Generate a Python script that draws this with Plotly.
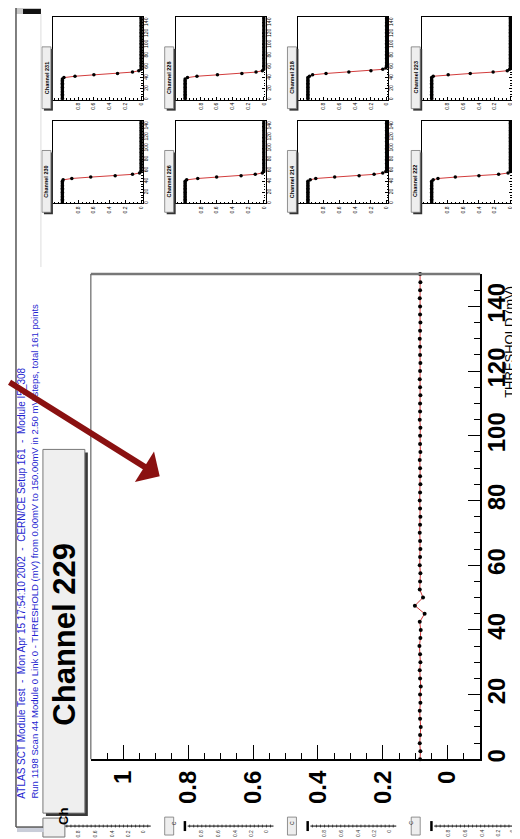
import plotly.graph_objects as go

W, H = 520, 839

# ---------------- data ----------------
THRESHOLD_MV = [
    0.0, 2.5, 5.0, 7.5, 10.0, 12.5, 15.0, 17.5, 20.0, 22.5,
    25.0, 27.5, 30.0, 32.5, 35.0, 37.5, 40.0, 42.5, 45.0, 47.5,
    50.0, 52.5, 55.0, 57.5, 60.0, 62.5, 65.0, 67.5, 70.0, 72.5,
    75.0, 77.5, 80.0, 82.5, 85.0, 87.5, 90.0, 92.5, 95.0, 97.5,
    100.0, 102.5, 105.0, 107.5, 110.0, 112.5, 115.0, 117.5, 120.0, 122.5,
    125.0, 127.5, 130.0, 132.5, 135.0, 137.5, 140.0, 142.5, 145.0, 147.5,
    150.0,
]

MAIN_CHANNEL = "Channel 229"
MAIN_OCC = [
    0.085, 0.084, 0.086, 0.085, 0.083, 0.085, 0.086, 0.084, 0.085, 0.083,
    0.085, 0.086, 0.084, 0.085, 0.087, 0.084, 0.083, 0.086, 0.071, 0.101,
    0.076, 0.086, 0.085, 0.084, 0.086, 0.085, 0.084, 0.085, 0.086, 0.085,
    0.084, 0.085, 0.086, 0.085, 0.084, 0.085, 0.085, 0.086, 0.084, 0.085,
    0.085, 0.084, 0.086, 0.085, 0.085, 0.084, 0.085, 0.086, 0.085, 0.084,
    0.085, 0.085, 0.086, 0.085, 0.084, 0.085, 0.085, 0.086, 0.085, 0.084,
    0.085,
]

MINI_CHANNELS = ["Channel 231", "Channel 228", "Channel 218", "Channel 223",
                 "Channel 230", "Channel 226", "Channel 214", "Channel 222"]

OCC_231 = [1, 1, 1, 1, 1, 1, 1, 1, 1, 1, 1, 1, 1, 1, 1, 1,
           0.98, 0.84, 0.60, 0.30, 0.11, 0.03,
           0, 0, 0, 0, 0, 0, 0, 0, 0, 0, 0, 0, 0, 0, 0, 0, 0, 0, 0, 0,
           0, 0, 0, 0, 0, 0, 0, 0, 0, 0, 0, 0, 0, 0, 0, 0, 0, 0, 0]
OCC_228 = [1, 1, 1, 1, 1, 1, 1, 1, 1, 1, 1, 1, 1, 1, 1, 1,
           0.97, 0.85, 0.59, 0.28, 0.10, 0.02,
           0, 0, 0, 0, 0, 0, 0, 0, 0, 0, 0, 0, 0, 0, 0, 0, 0, 0, 0, 0,
           0, 0, 0, 0, 0, 0, 0, 0, 0, 0, 0, 0, 0, 0, 0, 0, 0, 0, 0]
OCC_218 = [1, 1, 1, 1, 1, 1, 1, 1, 1, 1, 1, 1, 1, 1, 1, 1, 1,
           0.98, 0.94, 0.77, 0.48, 0.20, 0.05, 0.01,
           0, 0, 0, 0, 0, 0, 0, 0, 0, 0, 0, 0, 0, 0, 0, 0, 0, 0, 0, 0,
           0, 0, 0, 0, 0, 0, 0, 0, 0, 0, 0, 0, 0, 0, 0, 0, 0]
OCC_223 = [1, 1, 1, 1, 1, 1, 1, 1, 1, 1, 1, 1, 1, 1, 1, 1, 1,
           0.98, 0.79, 0.51, 0.22, 0.04, 0.01,
           0, 0, 0, 0, 0, 0, 0, 0, 0, 0, 0, 0, 0, 0, 0, 0, 0, 0, 0, 0,
           0, 0, 0, 0, 0, 0, 0, 0, 0, 0, 0, 0, 0, 0, 0, 0, 0, 0]
OCC_230 = [1, 1, 1, 1, 1, 1, 1, 1, 1, 1, 1, 1, 1, 1, 1, 1, 1,
           0.99, 0.88, 0.64, 0.33, 0.11, 0.02,
           0, 0, 0, 0, 0, 0, 0, 0, 0, 0, 0, 0, 0, 0, 0, 0, 0, 0, 0, 0,
           0, 0, 0, 0, 0, 0, 0, 0, 0, 0, 0, 0, 0, 0, 0, 0, 0, 0]
OCC_226 = [1, 1, 1, 1, 1, 1, 1, 1, 1, 1, 1, 1, 1, 1, 1, 1, 1,
           0.98, 0.84, 0.60, 0.29, 0.11, 0.02,
           0, 0, 0, 0, 0, 0, 0, 0, 0, 0, 0, 0, 0, 0, 0, 0, 0, 0, 0, 0,
           0, 0, 0, 0, 0, 0, 0, 0, 0, 0, 0, 0, 0, 0, 0, 0, 0, 0]
OCC_214 = [1, 1, 1, 1, 1, 1, 1, 1, 1, 1, 1, 1, 1, 1, 1, 1, 1,
           0.97, 0.90, 0.66, 0.35, 0.16, 0.05, 0.01,
           0, 0, 0, 0, 0, 0, 0, 0, 0, 0, 0, 0, 0, 0, 0, 0, 0, 0, 0, 0,
           0, 0, 0, 0, 0, 0, 0, 0, 0, 0, 0, 0, 0, 0, 0, 0, 0]
OCC_222 = [1, 1, 1, 1, 1, 1, 1, 1, 1, 1, 1, 1, 1, 1, 1, 1, 1,
           0.98, 0.92, 0.70, 0.40, 0.15, 0.03,
           0, 0, 0, 0, 0, 0, 0, 0, 0, 0, 0, 0, 0, 0, 0, 0, 0, 0, 0, 0,
           0, 0, 0, 0, 0, 0, 0, 0, 0, 0, 0, 0, 0, 0, 0, 0, 0, 0]
MINI_OCC = [OCC_231, OCC_228, OCC_218, OCC_223, OCC_230, OCC_226, OCC_214, OCC_222]

OCC_TICKS = [0, 0.2, 0.4, 0.6, 0.8, 1]
OCC_TICK_TEXT = ["0", "0.2", "0.4", "0.6", "0.8", "1"]
MINI_OCC_TICKS = [0, 0.2, 0.4, 0.6, 0.8]
MINI_OCC_TICK_TEXT = ["0", "0.2", "0.4", "0.6", "0.8"]
THR_TICKS = [0, 20, 40, 60, 80, 100, 120, 140]
THR_TICK_TEXT = ["0", "20", "40", "60", "80", "100", "120", "140"]

HEADER_1 = "ATLAS SCT Module Test  -  Mon Apr 15 17:54:10 2002  -  CERN/CE Setup 161  -  Module I5_308"
HEADER_2 = "Run 1198 Scan 44 Module 0 Link 0 - THRESHOLD (mV) from 0.00mV to 150.00mV in 2.50 mV steps, total 161 points"
AXIS_TITLE = "THRESHOLD (mV)"

FONT = "Liberation Sans, Arial, Helvetica, sans-serif"


def fx(p):
    return p / W


def fy(p):
    return 1 - p / H


fig = go.Figure()
layout = dict(
    width=W, height=H, margin=dict(l=0, r=0, t=0, b=0),
    paper_bgcolor="white", plot_bgcolor="white", showlegend=False,
    font=dict(family=FONT, color="black"),
)

# ---------------- main plot ----------------
fig.add_trace(go.Scatter(
    x=MAIN_OCC, y=THRESHOLD_MV, mode="lines+markers",
    line=dict(color="#d23c3c", width=1),
    marker=dict(size=4, color="black"),
    cliponaxis=False, xaxis="x", yaxis="y",
))
layout["xaxis"] = dict(
    domain=[fx(83), fx(473)], range=[1.1, -0.1], anchor="y",
    tickmode="array", tickvals=OCC_TICKS, ticktext=OCC_TICK_TEXT,
    ticks="inside", ticklen=15, tickwidth=1.2, tickcolor="black",
    tickangle=-90, tickfont=dict(size=24, family=FONT, color="black", weight="bold"),
    showline=True, linecolor="black", linewidth=1.5,
    showgrid=False, zeroline=False,
    minor=dict(tickmode="linear", tick0=0, dtick=0.05, ticklen=7,
               ticks="inside", tickcolor="black", tickwidth=1, showgrid=False),
)
layout["yaxis"] = dict(
    domain=[fy(754), fy(267)], range=[0, 150], anchor="x", side="right",
    tickmode="array", tickvals=THR_TICKS, ticktext=THR_TICK_TEXT,
    ticks="inside", ticklen=12, tickwidth=1.2, tickcolor="black",
    tickangle=-90, tickfont=dict(size=24, family=FONT, color="black", weight="bold"),
    ticklabelstandoff=-6,
    showline=True, linecolor="black", linewidth=1.5,
    showgrid=False, zeroline=False,
    minor=dict(tickmode="linear", tick0=0, dtick=5, ticklen=6,
               ticks="inside", tickcolor="black", tickwidth=1, showgrid=False),
)

# ---------------- mini plots ----------------
COL_LEFT = [45, 168, 291, 415]
ROW_SPAN = [(9, 92), (113, 196)]
MINI_W = 90

shapes = []
annotations = []


def rect(x0, y0, x1, y1, fill, line_color=None, lw=0):
    shapes.append(dict(type="rect", xref="paper", yref="paper",
                       x0=fx(x0), x1=fx(x1), y0=fy(y1), y1=fy(y0),
                       fillcolor=fill,
                       line=dict(color=line_color or fill, width=lw)))


def seg(x0, y0, x1, y1, color, width):
    shapes.append(dict(type="line", xref="paper", yref="paper",
                       x0=fx(x0), x1=fx(x1), y0=fy(y0), y1=fy(y1),
                       line=dict(color=color, width=width)))


for k in range(8):
    r, c = divmod(k, 4)
    L = COL_LEFT[c]
    top, bot = ROW_SPAN[r]
    n = k + 2
    fig.add_trace(go.Scatter(
        x=MINI_OCC[k], y=THRESHOLD_MV, mode="lines+markers",
        line=dict(color="#d23c3c", width=1),
        marker=dict(size=3.5, color="black"),
        xaxis=f"x{n}", yaxis=f"y{n}",
    ))
    layout[f"xaxis{n}"] = dict(
        domain=[fx(L), fx(L + MINI_W)], range=[1.12, -0.02], anchor=f"y{n}",
        tickmode="array", tickvals=MINI_OCC_TICKS, ticktext=MINI_OCC_TICK_TEXT,
        ticks="inside", ticklen=3, tickwidth=0.8, tickcolor="black",
        tickangle=-90, tickfont=dict(size=5, family=FONT, color="black"),
        showline=True, mirror=True, linecolor="black", linewidth=1.3,
        showgrid=False, zeroline=False,
        minor=dict(tickmode="linear", tick0=0, dtick=0.05, ticklen=1.5,
                   ticks="inside", tickcolor="black", tickwidth=0.6),
    )
    layout[f"yaxis{n}"] = dict(
        domain=[fy(bot), fy(top)], range=[0, 150], anchor=f"x{n}", side="right",
        tickmode="array", tickvals=THR_TICKS, ticktext=THR_TICK_TEXT,
        ticks="inside", ticklen=3, tickwidth=0.8, tickcolor="black",
        tickangle=-90, tickfont=dict(size=5, family=FONT, color="black"),
        ticklabelstandoff=-2,
        showline=True, mirror=True, linecolor="black", linewidth=1.3,
        showgrid=False, zeroline=False,
        minor=dict(tickmode="linear", tick0=0, dtick=5, ticklen=1.5,
                   ticks="inside", tickcolor="black", tickwidth=0.6),
    )
    # channel label box
    rect(L - 9, top + 32, L + 0, bot + 11, "#333333")
    rect(L - 11, top + 30, L - 2, bot + 9, "#eeeeee", "#777777", 0.8)
    annotations.append(dict(
        text=f"<b>{MINI_CHANNELS[k]}</b>", x=fx(L - 6.5), y=fy((top + bot) / 2 + 19.5),
        xref="paper", yref="paper", showarrow=False, textangle=-90,
        font=dict(size=5.5, family=FONT, color="black"),
        xanchor="center", yanchor="middle",
    ))

# ---------------- partial next row at the bottom ----------------
for c, L in enumerate(COL_LEFT):
    seg(L + 12, 821, L + 98, 821, "black", 1)
    for j in range(21):
        xx = L + 14 + j * 4.05
        seg(xx, 819.5, xx, 822.5, "black", 0.6)
    rect(L + 8, 816, L + 10.5, 826, "black")
    for lab, dx in zip(["0.8", "0.6", "0.4", "0.2", "0"], [25, 42, 59, 75, 90]):
        annotations.append(dict(
            text=lab, x=fx(L + dx), y=fy(823), xref="paper", yref="paper",
            showarrow=False, textangle=-90, xanchor="center", yanchor="top",
            font=dict(size=5, family=FONT, color="#333"),
        ))
    if c == 0:
        rect(35, 813, 57, 832, "#eeeeee", "#777777", 1)
        annotations.append(dict(text="<b>Ch</b>", x=fx(46), y=fy(822),
                                xref="paper", yref="paper", showarrow=False,
                                textangle=-90, font=dict(size=13, family=FONT, color="black")))
    else:
        rect(L - 11, 812, L - 2, 830, "#eeeeee", "#777777", 0.8)
        annotations.append(dict(text="C", x=fx(L - 6.5), y=fy(822),
                                xref="paper", yref="paper", showarrow=False,
                                textangle=-90, font=dict(size=5, family=FONT, color="black")))

# ---------------- page decorations ----------------
rect(8, 0, 33, 6, "#c8c8c8")
rect(15, 1, 33, 6, "#111111")
seg(8, 0, 8, 822, "#555555", 1.5)
seg(8, 822, 35, 822, "#555555", 1.5)
rect(9, 823, 36, 827, "#c9cdd9")
seg(33, 6, 33, 260, "#dddddd", 1)

# main channel title box
rect(38, 446, 80, 811, "#3a3a3a")
rect(35, 443, 77, 808, "#efefef", "#777777", 1)

# main frame top / left edges
seg(83, 267, 473, 267, "#777777", 2.5)
seg(83, 267, 83, 754, "#666666", 1.2)

# ---------------- text ----------------
annotations.append(dict(
    text=HEADER_1, x=fx(14), y=fy(795), xref="paper", yref="paper",
    showarrow=False, textangle=-90, xanchor="center", yanchor="bottom",
    font=dict(size=10, family=FONT, color="#1f1fd0"),
))
annotations.append(dict(
    text=HEADER_2, x=fx(27), y=fy(795), xref="paper", yref="paper",
    showarrow=False, textangle=-90, xanchor="center", yanchor="bottom",
    font=dict(size=9.5, family=FONT, color="#1f1fd0"),
))
annotations.append(dict(
    text=f"<b>{MAIN_CHANNEL}</b>", x=fx(57), y=fy(628), xref="paper", yref="paper",
    showarrow=False, textangle=-90, xanchor="center", yanchor="middle",
    font=dict(size=31, family=FONT, color="black"),
))
annotations.append(dict(
    text=AXIS_TITLE, x=fx(503), y=fy(335), xref="paper", yref="paper",
    showarrow=False, textangle=-90, xanchor="center", yanchor="middle",
    font=dict(size=13, family=FONT, color="black"),
))
# arrow
annotations.append(dict(
    text="", x=fx(152), y=fy(470), xref="paper", yref="paper",
    showarrow=True, ax=-165, ay=-95, arrowhead=1, arrowsize=1,
    arrowwidth=6, arrowcolor="#8a1111",
))

layout["shapes"] = shapes
layout["annotations"] = annotations
fig.update_layout(**layout)
fig.write_html("out.html")
